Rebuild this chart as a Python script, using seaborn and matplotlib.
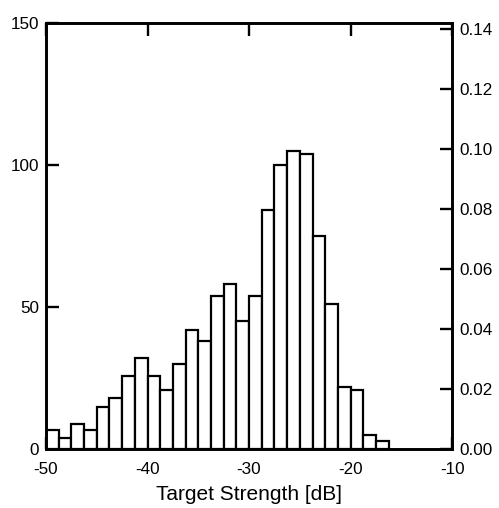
import numpy as np
import pandas as pd
import matplotlib
matplotlib.use("Agg")
import matplotlib.pyplot as plt
import seaborn as sns

# Data: 1.25 dB bins starting at -50 dB
bin_start = -50.0
bin_width = 1.25
counts = [7, 4, 9, 7, 15, 18, 26, 32, 26, 21, 30, 42, 38, 54, 58, 45, 54,
          84, 100, 105, 104, 75, 51, 22, 21, 5, 3]
x_ticks = [-50, -40, -30, -20, -10]
left_ticks = [0, 50, 100, 150]
right_ticks = [0.00, 0.02, 0.04, 0.06, 0.08, 0.10, 0.12, 0.14]
xlabel = "Target Strength [dB]"

edges = [bin_start + bin_width * i for i in range(len(counts) + 1)]
centers = [(edges[i] + edges[i + 1]) / 2 for i in range(len(counts))]
df = pd.DataFrame({"ts": centers, "n": counts})
total = sum(counts)

sns.set_style("white")
plt.rcParams["font.family"] = ["Liberation Sans", "DejaVu Sans"]
plt.rcParams["axes.unicode_minus"] = False
plt.rcParams["text.color"] = "black"
plt.rcParams["axes.labelcolor"] = "black"

fig = plt.figure(figsize=(4.99, 5.08), dpi=100)
ax = fig.add_axes([0.0922, 0.1152, 0.906 - 0.0922, 0.9553 - 0.1152])

sns.histplot(data=df, x="ts", weights="n", bins=edges, ax=ax,
             color="white", edgecolor="black", linewidth=1.6, alpha=1)

ax.set_xlim(-50, -10)
ax.set_ylim(0, 150)
ax.set_xticks(x_ticks)
ax.set_yticks(left_ticks)
ax.set_xlabel(xlabel, fontsize=15, labelpad=6, color="black")
ax.set_ylabel("")
for s in ax.spines.values():
    s.set_linewidth(1.9)
    s.set_color("black")
    s.set_visible(True)
ax.tick_params(axis="both", direction="in", length=9, width=1.7,
               labelsize=12.3, colors="black", top=True, bottom=True,
               left=True, right=False)
ax.tick_params(axis="x", pad=9)
ax.tick_params(axis="y", pad=5)

ax2 = ax.twinx()
ax2.set_ylim(0, 150 / total)
ax2.set_yticks(right_ticks)
ax2.set_yticklabels([f"{t:.2f}" for t in right_ticks])
ax2.tick_params(axis="y", direction="in", length=9, width=1.7,
                labelsize=12.3, colors="black", pad=5)
for s in ax2.spines.values():
    s.set_linewidth(1.9)
    s.set_color("black")
ax2.grid(False)
ax.grid(False)

fig.savefig("out.png", dpi=100)
